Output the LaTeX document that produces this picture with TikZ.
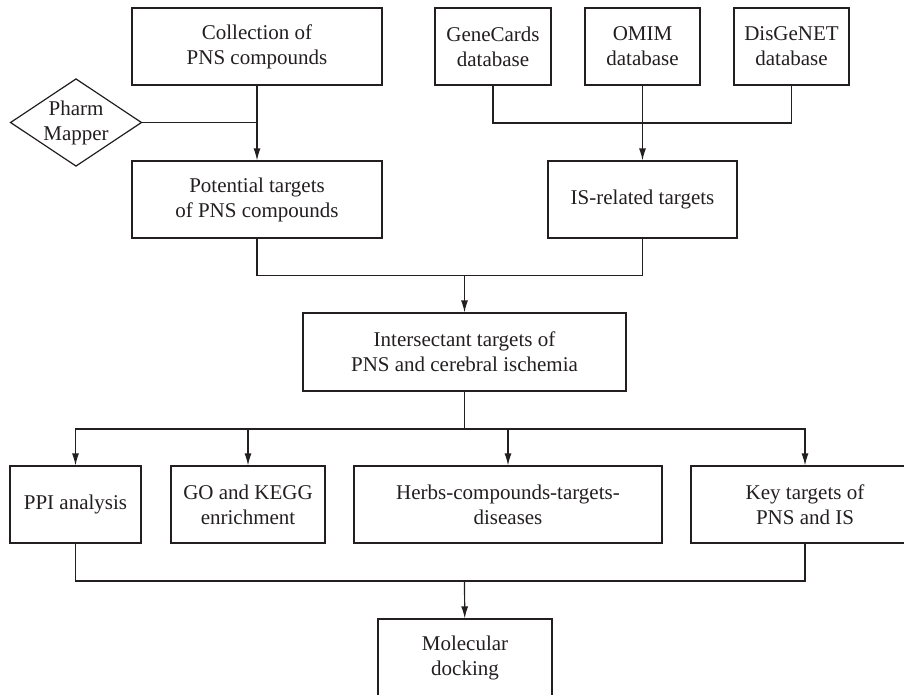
\documentclass[tikz,border=0pt]{standalone}
\usepackage{fontspec}
\setmainfont{Liberation Serif}
\usetikzlibrary{shapes.geometric,arrows.meta}
\definecolor{ink}{RGB}{35,31,32}
\tikzset{
box/.style={draw=ink, text=ink, line width=1.2pt, minimum height=77pt, align=center, inner sep=0pt, font=\fontsize{21}{25}\selectfont},
link/.style={draw=ink, line width=1.2pt},
arr/.style={link, -{Latex[length=12pt,width=7pt]}}
}

\begin{document}
\begin{tikzpicture}[x=1pt, y=-1pt]
\useasboundingbox (0,0) rectangle (904,694);
\clip (0,0) rectangle (904,694);

% sources
\node[box, minimum width=250pt] (coll) at (257,46.5) {Collection of\\PNS compounds};
\node[box, diamond, aspect=1.5, minimum width=130pt, minimum height=87pt] (pharm) at (76,122.5) {Pharm\\Mapper};
\node[box, minimum width=116pt] (gene) at (493,46.5) {GeneCards\\database};
\node[box, minimum width=115pt] (omim) at (642.5,46.5) {OMIM\\database};
\node[box, minimum width=115pt] (disg) at (791.5,46.5) {DisGeNET\\database};

% targets
\node[box, minimum width=250pt] (pot) at (257,199.5) {Potential targets\\of PNS compounds};
\node[box, minimum width=189pt] (isrel) at (642.5,199.5) {IS-related targets};
\node[box, minimum width=323pt, minimum height=78pt] (inter) at (464.5,352) {Intersectant targets of\\PNS and cerebral ischemia};

% analyses
\node[box, minimum width=131pt] (ppi) at (75.5,504.5) {PPI analysis};
\node[box, minimum width=154pt] (go) at (248,504.5) {GO and KEGG\\enrichment};
\node[box, minimum width=308pt] (herb) at (508,504.5) {Herbs-compounds-targets-\\diseases};
\node[box, minimum width=228pt] (key) at (805,504.5) {Key targets of\\PNS and IS};
\node[box, minimum width=174pt] (mol) at (465,657.5) {Molecular\\docking};

\coordinate (j1) at (642.5,123);
\coordinate (j2) at (464.5,275.5);
\coordinate (j3) at (464.5,429);
\coordinate (j4) at (464.5,581);

\draw[arr] (coll) -- (pot);
\draw[link] (pharm.east) -- (pharm.east -| coll.south);
\draw[link] (gene) |- (j1) -| (disg);
\draw[arr] (omim) -- (isrel);
\draw[link] (pot) |- (j2) -| (isrel);
\draw[arr] (j2) -- (inter);
\draw[link] (inter) -- (j3);
\foreach \n in {ppi,go,herb,key}
  \draw[arr] (j3) -| (\n.north);
\draw[link] (ppi) |- (j4) -| (key);
\draw[arr] (j4) -- (mol);

\end{tikzpicture}
\end{document}
